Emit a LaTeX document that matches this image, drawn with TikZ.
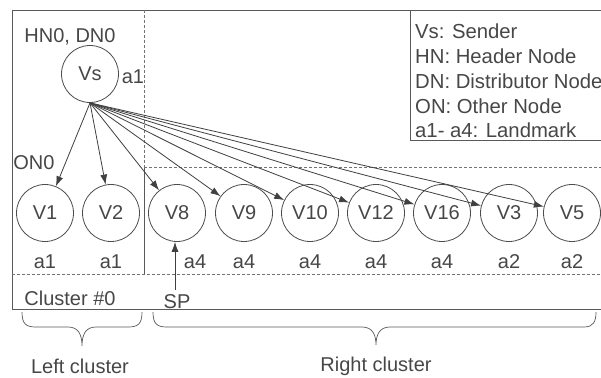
\documentclass[tikz,border=0pt]{standalone}
\usepackage{fontspec}
\setmainfont{Liberation Sans}
\usetikzlibrary{arrows.meta}
\begin{document}
\begin{tikzpicture}[x=1pt,y=-1pt, font=\fontsize{20}{24}\selectfont,
  ln/.style={draw=black!65, line width=0.8pt},
  vnode/.style={circle, draw=black!70, line width=0.8pt, minimum size=57pt, inner sep=0pt, text=black!72},
  lbl/.style={text=black!72, inner sep=0pt},
  leg/.style={lbl, anchor=west, font=\fontsize{20.3}{24}\selectfont},
  dsh/.style={draw=black!55, line width=0.7pt, dash pattern=on 3pt off 2pt},
  arr/.style={draw=black!75, line width=0.8pt, -{Latex[length=10pt,width=7pt]}},
  ]
\useasboundingbox (0,0) rectangle (601,377);
\clip (0,0) rectangle (601,377);
\fill[white] (0,0) rectangle (601,377);
% frames
\draw[ln] (12,10) rectangle (620,309);
\draw[ln] (410,10) rectangle (620,140);
\draw[dsh] (144,10) -- (144,167);
\draw[ln] (144,167) -- (144,274);
\draw[dsh] (144,167) -- (601,167);
\draw[dsh] (12,274) -- (601,274);
% legend
\node[leg] (l1) at (415,31) {Vs: Sender};
\node[leg] (l2) at (415,56) {HN: Header Node};
\node[leg] (l3) at (415,81) {DN: Distributor Node};
\node[leg] (l4) at (415,106) {ON: Other Node};
\node[leg] (l5) at (415,130) {a1- a4: Landmark};
% sender
\node[vnode] (vs) at (90,74) {Vs};
\node[lbl] (hn) at (70,37) {HN0, DN0};
\node[lbl] (vsa) at (133,77) {a1};
\node[lbl] (on) at (34,163) {ON0};
% receivers
\node[vnode] (v1) at (45,213) {V1};
\node[vnode] (v2) at (111,213) {V2};
\node[vnode] (v8) at (177,213) {V8};
\node[vnode] (v9) at (244,213) {V9};
\node[vnode] (v10) at (310,213) {V10};
\node[vnode] (v12) at (376,213) {V12};
\node[vnode] (v16) at (442,213) {V16};
\node[vnode] (v3) at (509,213) {V3};
\node[vnode] (v5) at (572,213) {V5};
% landmarks
\node[lbl] (a1) at (45,262) {a1};
\node[lbl] (a2) at (111,262) {a1};
\node[lbl] (a8) at (195,262) {a4};
\node[lbl] (a9) at (244,262) {a4};
\node[lbl] (a10) at (310,262) {a4};
\node[lbl] (a12) at (376,262) {a4};
\node[lbl] (a16) at (442,262) {a4};
\node[lbl] (a3) at (509,262) {a2};
\node[lbl] (a5) at (572,262) {a2};
% arrows
\foreach \t in {v1,v2,v8,v9,v10,v12,v16,v3,v5}
  \draw[arr] (vs.south) -- (\t);
% SP
\node[lbl] (sp) at (177,302) {SP};
\coordinate (spt) at (175,290);
\draw[arr] (spt) -- (v8.south -| spt);
\node[lbl] (c0) at (70,298) {Cluster \#0};
% braces
\draw[ln, line width=0.7pt] (22,312) .. controls (22,324) and (26,327) .. (36,327)
  -- (68,327) .. controls (78,327) and (82,334) .. (82,346)
  .. controls (82,334) and (86,327) .. (96,327)
  -- (128,327) .. controls (138,327) and (142,324) .. (142,312);
\draw[ln, line width=0.7pt] (153,312) .. controls (153,324) and (157,327) .. (167,327)
  -- (362,327) .. controls (372,327) and (376,334) .. (376,345)
  .. controls (376,334) and (380,327) .. (390,327)
  -- (584,327) .. controls (593,327) and (596,322) .. (596,312);
\node[lbl] (lc) at (80,366) {Left cluster};
\node[lbl] (rc) at (376,366) {Right cluster};
\end{tikzpicture}
\end{document}
